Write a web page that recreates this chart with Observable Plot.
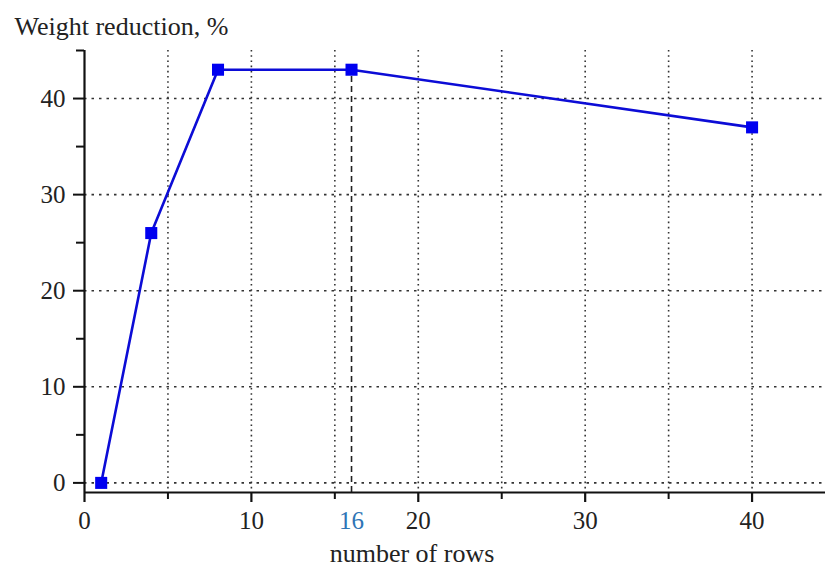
<!DOCTYPE html>
<html>
<head>
<meta charset="utf-8">
<script src="https://cdn.jsdelivr.net/npm/d3@7"></script>
<script src="https://cdn.jsdelivr.net/npm/@observablehq/plot@0.6"></script>
<style>
  html, body { margin: 0; padding: 0; background: #ffffff; }
  #chart svg { display: block; }
  #chart svg, #chart svg text { font-family: 'Liberation Serif', 'DejaVu Serif', serif; }
</style>
</head>
<body>
<div id="chart"></div>
<script>
// Data
const rows = [1, 4, 8, 16, 40];
const weightReduction = [0, 26, 43, 43, 37];
const xMajorTicks = [0, 10, 20, 30, 40];
const xMinorTicks = [5, 15, 25, 35];
const xGrid = [5, 10, 15, 20, 25, 30, 35, 40];
const xHighlight = [16];
const yMajorTicks = [0, 10, 20, 30, 40];
const yMinorTicks = [5, 15, 25, 35, 45];
const yGrid = [0, 10, 20, 30, 40];
const yTitle = "Weight reduction, %";
const xTitle = "number of rows";

const data = rows.map((r, i) => ({rows: r, weight: weightReduction[i]}));
const highlight = data.filter(d => xHighlight.includes(d.rows));

const yMin = -1, yMax = 45;
const lineColor = "#0c0cd6";
const markerColor = "#0000f0";

const chart = Plot.plot({
  width: 825,
  height: 570,
  marginLeft: 84,
  marginRight: 0,
  marginTop: 50,
  marginBottom: 78,
  style: {fontFamily: "'Liberation Serif', 'DejaVu Serif', serif", fontSize: "25px", background: "#ffffff", color: "#222"},
  x: {domain: [0, 44.4], axis: null},
  y: {domain: [yMin, yMax], axis: null},
  marks: [
    Plot.gridX(xGrid, {stroke: "#333", strokeOpacity: 1, strokeWidth: 1.6, strokeDasharray: "1.6,3.6"}),
    Plot.gridY(yGrid, {stroke: "#333", strokeOpacity: 1, strokeWidth: 1.6, strokeDasharray: "2.5,5"}),
    Plot.ruleX(highlight, {x: "rows", y1: yMin, y2: "weight", stroke: "#222", strokeWidth: 1.6, strokeDasharray: "6,4"}),
    Plot.ruleX([0], {y1: yMin, y2: yMax, stroke: "#111", strokeWidth: 2.2}),
    Plot.ruleY([yMin], {stroke: "#111", strokeWidth: 2.2}),
    Plot.axisY(yMajorTicks, {anchor: "left", tickSize: 11, tickPadding: 8, stroke: "#111", strokeWidth: 2, label: null, tickFormat: d => String(d), fill: "#222", fontSize: 25}),
    Plot.axisY(yMinorTicks, {anchor: "left", tickSize: 8, stroke: "#111", strokeWidth: 2, label: null, tickFormat: () => ""}),
    Plot.axisX(xMajorTicks, {anchor: "bottom", tickSize: 10, tickPadding: 9, stroke: "#111", strokeWidth: 2.2, label: null, tickFormat: d => String(d), fill: "#222", fontSize: 25}),
    Plot.axisX(xMinorTicks, {anchor: "bottom", tickSize: 7, stroke: "#111", strokeWidth: 2, label: null, tickFormat: () => ""}),
    Plot.axisX(xHighlight, {anchor: "bottom", tickSize: 0, tickPadding: 19, label: null, tickFormat: d => String(d), fill: "#2e75b6", fontSize: 25}),
    Plot.line(data, {x: "rows", y: "weight", stroke: lineColor, strokeWidth: 2.6}),
    Plot.dot(data, {x: "rows", y: "weight", symbol: "square", r: 6.8, fill: markerColor, stroke: "none"}),
    Plot.text([yTitle], {frameAnchor: "top-left", text: d => d, textAnchor: "start", lineAnchor: "middle", dx: -70, dy: -24, fontSize: 26, fill: "#222"}),
    Plot.text([xTitle], {frameAnchor: "bottom", text: d => d, lineAnchor: "middle", dx: -43, dy: 61, fontSize: 26, fill: "#222"})
  ]
});
document.getElementById("chart").append(chart);
</script>
</body>
</html>
